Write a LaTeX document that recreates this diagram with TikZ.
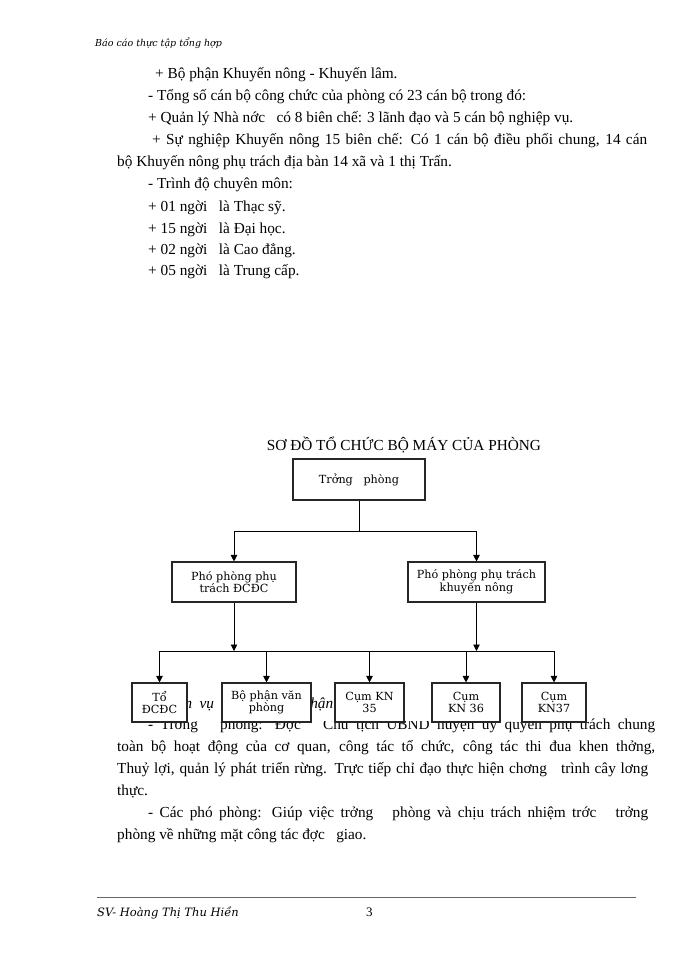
\documentclass[tikz,border=0pt]{standalone}
\usepackage{fontspec}
\setmainfont{Liberation Serif}
\newfontfamily\boxfont{DejaVu Serif}
\newfontfamily\handfont{DejaVu Serif}[ItalicFont={DejaVu Serif Italic}]
\usetikzlibrary{arrows.meta,positioning}

\newcommand\spreadline[2]{\makebox[#1][s]{#2}}

\tikzset{
  txt/.style={anchor=base west, inner sep=0pt, font=\fontsize{15.3}{18}\selectfont},
  hand/.style={anchor=base west, inner sep=0pt},
  orgbox/.style={draw=black!85, line width=1.1pt, fill=white, align=center, inner sep=1pt,
    font=\boxfont\fontsize{11.2}{12.5}\selectfont},
  link/.style={line width=0.9pt},
  arr/.style={link, -{Triangle[length=6.5pt,width=6.5pt]}}
}

\begin{document}
\begin{tikzpicture}[x=1pt,y=-1pt]
  \useasboundingbox (0,0) rectangle (700,960);
  \fill[white] (0,0) rectangle (700,960);

  % header
  \node[hand, font=\handfont\itshape\fontsize{9.5}{11}\selectfont] (hdr) at (95,47) {Báo cáo thực tập tổng hợp};

  % text above the chart
  \node[txt] (t1) at (155,79) {+ Bộ phận Khuyến nông - Khuyến lâm.};
  \node[txt] (t2) at (148,101) {- Tổng số cán bộ công chức của phòng có 23 cán bộ trong đó:};
  \node[txt] (t3) at (148,123) {+ Quản lý Nhà nớc~~ có 8 biên chế: 3 lãnh đạo và 5 cán bộ nghiệp vụ.};
  \node[txt] (t4) at (152,145) {\spreadline{495pt}{+ Sự nghiệp Khuyến nông 15 biên chế: Có 1 cán bộ điều phối chung, 14 cán}};
  \node[txt] (t5) at (117,167) {bộ Khuyến nông phụ trách địa bàn 14 xã và 1 thị Trấn.};
  \node[txt] (t6) at (148,189) {- Trình độ chuyên môn:};
  \node[txt] (t7) at (148,211) {+ 01 ngời~~ là Thạc sỹ.};
  \node[txt] (t8) at (148,233) {+ 15 ngời~~ là Đại học.};
  \node[txt] (t9) at (148,254) {+ 02 ngời~~ là Cao đẳng.};
  \node[txt] (t10) at (148,275) {+ 05 ngời~~ là Trung cấp.};

  % title
  \node[font=\fontsize{15.3}{18}\selectfont] (title) at (404,445) {SƠ ĐỒ TỔ CHỨC BỘ MÁY CỦA PHÒNG};

  % text under the chart
  \node[txt, font=\itshape\fontsize{15.3}{18}\selectfont] (h1) at (137,708) {\spreadline{196pt}{* Nhiệm vụ của các bộ phận}};
  \node[txt] (b1) at (148,729) {\spreadline{507pt}{- Trởng~~ phòng: Đợc~~ Chủ tịch UBND huyện uỷ quyền phụ trách chung}};
  \node[txt] (b2) at (117,751) {\spreadline{538pt}{toàn bộ hoạt động của cơ quan, công tác tổ chức, công tác thi đua khen thởng,}};
  \node[txt] (b3) at (117,773) {\spreadline{531pt}{Thuỷ lợi, quản lý phát triển rừng. Trực tiếp chỉ đạo thực hiện chơng~~ trình cây lơng}};
  \node[txt] (b4) at (117,795) {thực.};
  \node[txt] (b5) at (148,817) {\spreadline{500pt}{- Các phó phòng: Giúp việc trởng~~ phòng và chịu trách nhiệm trớc~~ trởng}};
  \node[txt] (b6) at (117,839) {phòng về những mặt công tác đợc~~ giao.};

  % the chart hides part of the lines below it
  \fill[white] (132,713) rectangle (587,721);

  % chart boxes
  \node[orgbox, minimum width=132pt, minimum height=41pt] (truong) at (359,479.5) {Trởng~~ phòng};
  \node[orgbox, minimum width=124pt, minimum height=40pt] (phoA) at (234,582) {Phó phòng phụ\\trách ĐCĐC};
  \node[orgbox, minimum width=137pt, minimum height=40pt] (phoB) at (476.5,582) {Phó phòng phụ trách\\khuyến nông};
  \node[orgbox, minimum width=55pt, minimum height=39pt] (to) at (159.5,702.5) {Tổ\\ĐCĐC};
  \node[orgbox, minimum width=89pt, minimum height=39pt] (vanphong) at (266.5,702.5) {Bộ phận văn\\phòng};
  \node[orgbox, minimum width=69pt, minimum height=39pt] (cum35) at (369.5,702.5) {Cụm KN\\35};
  \node[orgbox, minimum width=68pt, minimum height=39pt] (cum36) at (466,702.5) {Cụm\\KN 36};
  \node[orgbox, minimum width=64pt, minimum height=39pt] (cum37) at (554,702.5) {Cụm\\KN37};

  % connectors
  \coordinate (top) at (359,531);
  \coordinate (low) at (359,651);
  \draw[link] (truong.south) -- (top);
  \draw[link] (phoA.north |- top) -- (phoB.north |- top);
  \draw[arr] (phoA.north |- top) -- (phoA.north);
  \draw[arr] (phoB.north |- top) -- (phoB.north);
  \draw[arr] (phoA.south) -- (phoA.south |- low);
  \draw[arr] (phoB.south) -- (phoB.south |- low);
  \draw[link] (to.north |- low) -- (cum37.north |- low);
  \foreach \b in {to,vanphong,cum35,cum36,cum37}
    \draw[arr] (\b.north |- low) -- (\b.north);

  % footer
  \draw[black!60, line width=0.8pt] (97,897) -- (636,897);
  \node[hand, font=\handfont\itshape\fontsize{11.5}{13}\selectfont] (ftr) at (97,916) {SV- Hoàng Thị Thu Hiền};
  \node[txt, font=\fontsize{13}{15}\selectfont] (pg) at (366,916) {3};
\end{tikzpicture}
\end{document}
